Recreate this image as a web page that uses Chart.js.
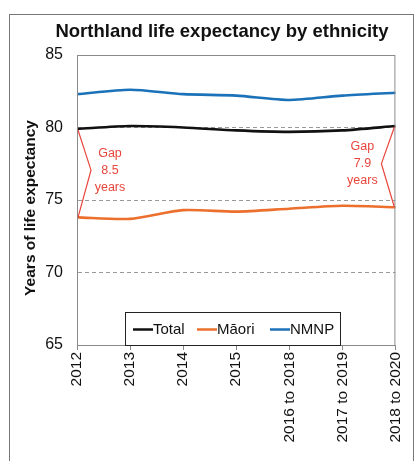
<!DOCTYPE html>
<html>
<head>
<meta charset="utf-8">
<script src="https://cdn.jsdelivr.net/npm/chart.js@4"></script>
<style>
  html, body { margin: 0; padding: 0; background: #fff; }
  #wrap { position: relative; width: 416px; height: 461px; }
  #frame { position: absolute; left: 9px; top: 14px; width: 405px; height: 460px; border: 1px solid #777; box-sizing: border-box; }
  canvas { position: absolute; left: 0; top: 0; }
</style>
</head>
<body>
<div id="wrap">
  <div id="frame"></div>
  <canvas id="c" width="416" height="461"></canvas>
</div>
<script>
// Life expectancy (years) in Northland by ethnic group
const periods = ['2012', '2013', '2014', '2015', '2016 to 2018', '2017 to 2019', '2018 to 2020'];
const total = [79.9, 80.1, 80.0, 79.8, 79.7, 79.8, 80.1];
const maori = [73.8, 73.7, 74.3, 74.2, 74.4, 74.6, 74.5];
const nmnp  = [82.3, 82.6, 82.3, 82.2, 81.9, 82.2, 82.4];
const yTicks = [65, 70, 75, 80, 85];
const gapNotes = [
  { index: 0, lines: ['Gap', '8.5', 'years'], side: 'left' },
  { index: 6, lines: ['Gap', '7.9', 'years'], side: 'right' }
];

const FONT = '"Liberation Sans", Arial, sans-serif';
const RED = '#e8463c';

const decorations = {
  id: 'decorations',
  afterDraw(chart) {
    const { ctx, chartArea: a, scales: { x, y } } = chart;
    ctx.save();
    // plot frame
    ctx.strokeStyle = '#8a8a8a';
    ctx.lineWidth = 1;
    ctx.strokeRect(a.left + 0.5, a.top + 0.5, a.right - a.left - 1, a.bottom - a.top);

    // title
    ctx.fillStyle = '#111';
    ctx.font = 'bold 18.5px ' + FONT;
    ctx.textAlign = 'center';
    ctx.textBaseline = 'alphabetic';
    ctx.fillText('Northland life expectancy by ethnicity', 222, 37);

    // y axis title
    ctx.save();
    ctx.translate(31, 208);
    ctx.rotate(-Math.PI / 2);
    ctx.font = 'bold 15.5px ' + FONT;
    ctx.textBaseline = 'middle';
    ctx.fillText('Years of life expectancy', 0, 0);
    ctx.restore();

    // gap brackets between Total and Māori
    gapNotes.forEach(g => {
      const px = x.getPixelForValue(g.index);
      const yTop = y.getPixelForValue(total[g.index]);
      const yBot = y.getPixelForValue(maori[g.index]);
      const dir = g.side === 'left' ? 1 : -1;
      const mid = (yTop + yBot) / 2 - 3;
      ctx.strokeStyle = RED;
      ctx.lineWidth = 1.2;
      ctx.beginPath();
      ctx.moveTo(px + dir * 1, yTop + 1);
      ctx.lineTo(px + dir * 14, mid);
      ctx.lineTo(px + dir * 1, yBot);
      ctx.stroke();
      ctx.fillStyle = RED;
      ctx.font = '12.5px ' + FONT;
      ctx.textAlign = 'center';
      ctx.textBaseline = 'middle';
      const tx = px + dir * 33;
      g.lines.forEach((t, i) => ctx.fillText(t, tx, mid - 17 + i * 17));
    });

    // legend box inside the plot
    const lx = 125, ly = 312, lw = 215, lh = 33;
    ctx.fillStyle = '#fff';
    ctx.fillRect(lx, ly, lw, lh);
    ctx.strokeStyle = '#222';
    ctx.lineWidth = 1;
    ctx.strokeRect(lx + 0.5, ly + 0.5, lw, lh);
    const items = [[chart.data.datasets[0], 133], [chart.data.datasets[1], 197], [chart.data.datasets[2], 270]];
    ctx.font = '15px ' + FONT;
    ctx.textAlign = 'left';
    ctx.textBaseline = 'middle';
    const cy = ly + lh / 2 + 1;
    items.forEach(([ds, sx]) => {
      ctx.strokeStyle = ds.borderColor;
      ctx.lineWidth = 2.5;
      ctx.beginPath();
      ctx.moveTo(sx, cy);
      ctx.lineTo(sx + 20, cy);
      ctx.stroke();
      ctx.fillStyle = '#111';
      ctx.fillText(ds.label, sx + 20, cy);
    });
    ctx.restore();
  }
};

new Chart(document.getElementById('c'), {
  type: 'line',
  data: {
    labels: periods,
    datasets: [
      { label: 'Total', data: total, borderColor: '#111111' },
      { label: 'Māori', data: maori, borderColor: '#ec6f2d' },
      { label: 'NMNP', data: nmnp, borderColor: '#1c72b8' }
    ]
  },
  options: {
    responsive: false,
    animation: false,
    layout: { padding: { top: 55, right: 17, left: 0, bottom: 0 } },
    elements: {
      line: { borderWidth: 2.6, tension: 0.25, fill: false },
      point: { radius: 0 }
    },
    plugins: {
      legend: { display: false },
      title: { display: false },
      tooltip: { enabled: false }
    },
    scales: {
      x: {
        offset: false,
        afterFit(s) { s.height = 116; },
        grid: { drawOnChartArea: false, drawTicks: true, tickLength: 5, color: '#8a8a8a' },
        border: { color: '#8a8a8a' },
        ticks: {
          minRotation: 90, maxRotation: 90, autoSkip: false,
          color: '#111', padding: 2,
          font: { family: FONT, size: 15.5 }
        }
      },
      y: {
        min: 65, max: 85,
        afterFit(s) { s.width = 77; },
        afterBuildTicks(s) { s.ticks = yTicks.map(v => ({ value: v })); },
        grid: {
          drawTicks: false,
          color: ctx => (ctx.tick.value === 65 || ctx.tick.value === 85) ? 'rgba(0,0,0,0)' : '#9a9a9a',
          lineWidth: 1
        },
        // dashed horizontal gridlines
        border: { color: '#8a8a8a', dash: [4, 3] },
        ticks: {
          color: '#111', padding: 14,
          font: { family: FONT, size: 16 }
        }
      }
    }
  },
  plugins: [decorations]
});
</script>
</body>
</html>
